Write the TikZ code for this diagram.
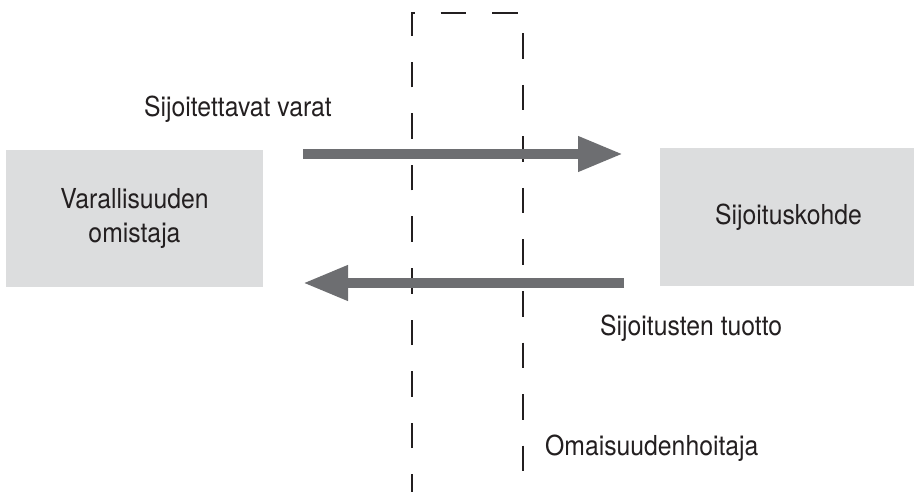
\documentclass[tikz,border=0pt]{standalone}
\usepackage{fontspec}
\setmainfont[FakeStretch=0.9]{TeX Gyre Heros}
\usetikzlibrary{arrows.meta}
\definecolor{boxgrey}{HTML}{DCDDDE}
\definecolor{arrowgrey}{HTML}{6D6E71}
\definecolor{ink}{HTML}{231F20}
\tikzset{
  entity/.style={fill=boxgrey, draw=none, minimum width=257pt, minimum height=137pt, inner sep=0pt, align=center, text=ink, font=\fontsize{27.5}{34}\selectfont},
  label/.style={inner sep=0pt, text=ink, font=\fontsize{27.5}{34}\selectfont, anchor=base west},
  flow/.style={draw=arrowgrey, line width=10pt, -{Triangle[width=33pt,length=45pt]}, arrowgrey},
  dashbox/.style={draw=ink, line width=2pt}
}
\begin{document}
\begin{tikzpicture}[x=1pt,y=-1pt]
\useasboundingbox (0,0) rectangle (914,492);
% boxes
\node[entity] (owner) at (134.5,218.5) {Varallisuuden\\omistaja};
\node[entity] (target) at (788.5,217) {Sijoituskohde};
% dashed manager region
\coordinate (dbl) at (412,493);
\coordinate (dtl) at (412,13);
\coordinate (dtr) at (523,13);
\coordinate (dbr) at (523,493);
\draw[dashbox, dash pattern=on 25.5pt off 26pt, dash phase=6.5pt] (dbl) -- (dtl) -- (dtr) -- (dbr);
\draw[dashbox, dash pattern=on 26pt off 26pt] (dbr) -- (dbl);
% arrows
\coordinate (a1s) at (303,154);
\coordinate (a1e) at (623,154);
\coordinate (a2s) at (624,283);
\coordinate (a2e) at (303,283);
\draw[flow] (a1s) -- (a1e);
\draw[flow] (a2s) -- (a2e);
% labels
\node[label] (l1) at (144,117) {Sijoitettavat varat};
\node[label] (l2) at (600,335) {Sijoitusten tuotto};
\node[label] (l3) at (545,455) {Omaisuudenhoitaja};
\end{tikzpicture}
\end{document}
